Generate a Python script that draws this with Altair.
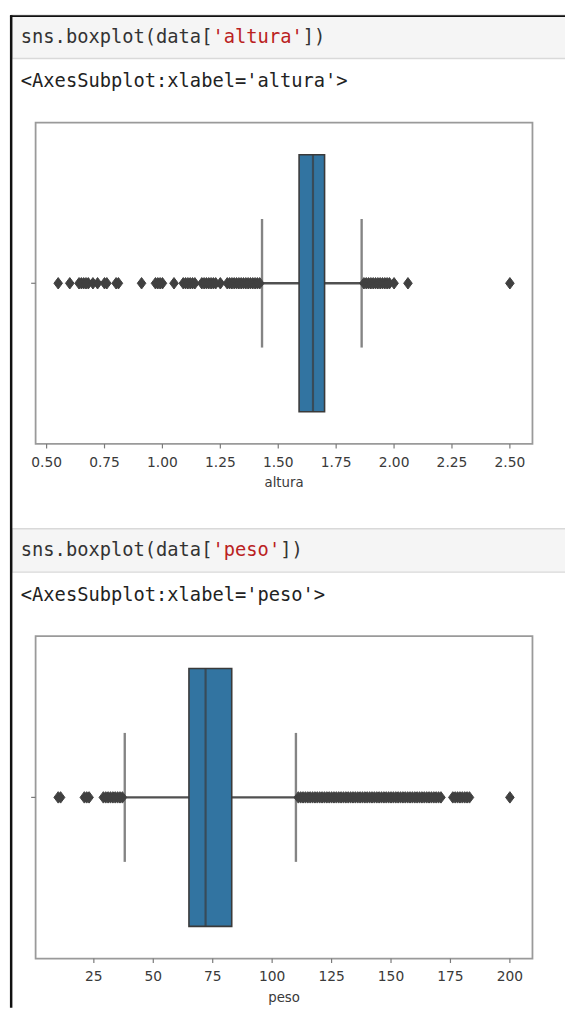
import altair as alt
import pandas as pd

W, H = 565, 1007

# ---------------- data ----------------
altura_box = {"q1": 1.59, "median": 1.65, "q3": 1.70, "low": 1.43, "high": 1.86}
altura_outliers = [
    0.55, 0.60, 0.64, 0.65, 0.66, 0.67, 0.68, 0.70, 0.72, 0.75, 0.76, 0.80, 0.81,
    0.91, 0.97, 0.98, 0.99, 1.00, 1.05, 1.09, 1.10, 1.11, 1.12, 1.13, 1.14,
    1.17, 1.18, 1.19, 1.20, 1.21, 1.22, 1.23, 1.25, 1.28, 1.29, 1.30, 1.31,
    1.32, 1.33, 1.34, 1.35, 1.36, 1.37, 1.38, 1.39, 1.40, 1.41, 1.42,
    1.87, 1.88, 1.89, 1.90, 1.91, 1.92, 1.93, 1.94, 1.95, 1.96, 1.97, 1.98,
    2.00, 2.06, 2.50,
]
altura_ticks = [0.50, 0.75, 1.00, 1.25, 1.50, 1.75, 2.00, 2.25, 2.50]
altura_tick_labels = ["0.50", "0.75", "1.00", "1.25", "1.50", "1.75", "2.00", "2.25", "2.50"]
altura_domain = [0.4525, 2.5975]

peso_box = {"q1": 65, "median": 72, "q3": 83, "low": 38, "high": 110}
peso_outliers = [
    10, 11, 21, 22, 23, 29, 30, 31, 32, 33, 34, 35, 36, 37,
    111, 112, 113, 114, 115, 116, 117, 118, 119, 120, 121, 122, 123, 124, 125,
    126, 127, 128, 129, 130, 131, 132, 133, 134, 135, 136, 137, 138, 139, 140,
    141, 142, 143, 144, 145, 146, 147, 148, 149, 150, 151, 152, 153, 154, 155,
    156, 157, 158, 159, 160, 161, 162, 163, 164, 165, 166, 167, 168, 169, 170,
    171, 176, 177, 178, 179, 180, 181, 182, 183, 200,
]
peso_ticks = [25, 50, 75, 100, 125, 150, 175, 200]
peso_tick_labels = ["25", "50", "75", "100", "125", "150", "175", "200"]
peso_domain = [0.5, 209.5]

# ---------------- styles ----------------
BLUE = "#3274a1"
LINE = "#505050"
FLIER = "#404040"
EDGE = "#3a3a3a"
SPINE = "#9a9a9a"
TXT = "#3a3a3a"
MONO = "DejaVu Sans Mono"
SANS = "DejaVu Sans"
DIAMOND = "M0,-1L0.75,0L0,1L-0.75,0Z"
CW = 0.6021 * 19  # monospace char width

one = pd.DataFrame({"k": [0]})


def boxplot(name, box, outliers, ticks, tick_labels, xdom, frame_top, frame_bot):
    xs = alt.Scale(domain=xdom, range=[28, 532], nice=False, zero=False)
    ys = alt.Scale(domain=[name], range=[frame_top, frame_bot], paddingInner=0, paddingOuter=0)
    band = frame_bot - frame_top
    stats = pd.DataFrame([{"var": name, **box}])
    out = pd.DataFrame({"var": name, "value": outliers})
    tk = pd.DataFrame({"tick": ticks, "label": tick_labels})
    Yn = alt.Y("var:N", scale=ys, axis=None)

    w_lo = alt.Chart(stats).mark_rule(color=LINE, strokeWidth=2.4).encode(
        x=alt.X("low:Q", scale=xs, axis=None), x2="q1:Q", y=Yn)
    w_hi = alt.Chart(stats).mark_rule(color=LINE, strokeWidth=2.4).encode(
        x=alt.X("q3:Q", scale=xs, axis=None), x2="high:Q", y=Yn)
    caps = alt.Chart(stats).transform_fold(["low", "high"], as_=["which", "v"]).mark_tick(
        color=LINE, thickness=2.4, size=band * 0.4, orient="vertical").encode(
        x=alt.X("v:Q", scale=xs, axis=None), y=Yn)
    boxes = alt.Chart(stats).mark_bar(
        height={"band": 0.8}, fill=BLUE, stroke=EDGE, strokeWidth=1.6).encode(
        x=alt.X("q1:Q", scale=xs, axis=None), x2="q3:Q", y=Yn)
    med = alt.Chart(stats).mark_tick(color=EDGE, thickness=2.2, size=band * 0.8,
                                     orient="vertical").encode(
        x=alt.X("median:Q", scale=xs, axis=None), y=Yn)
    fl = alt.Chart(out).mark_point(shape=DIAMOND, filled=True, size=135, color=FLIER,
                                   opacity=1, stroke=FLIER, strokeWidth=1).encode(
        x=alt.X("value:Q", scale=xs, axis=None), y=Yn)
    frame = alt.Chart(one).mark_rect(fillOpacity=0, stroke=SPINE, strokeWidth=1.8).encode(
        x=alt.value(28), x2=alt.value(532), y=alt.value(frame_top), y2=alt.value(frame_bot))
    # x axis ticks and labels
    xt = alt.Chart(tk).mark_rule(color="#7a7a7a", strokeWidth=1.2).encode(
        x=alt.X("tick:Q", scale=xs, axis=None),
        y=alt.value(frame_bot), y2=alt.value(frame_bot + 4.5))
    xl = alt.Chart(tk).mark_text(font=SANS, fontSize=14, color=TXT, baseline="middle",
                                 align="center").encode(
        x=alt.X("tick:Q", scale=xs, axis=None), y=alt.value(frame_bot + 19),
        text="label:N")
    xtitle = alt.Chart(one).mark_text(font=SANS, fontSize=13.5, color=TXT, baseline="middle",
                                      align="center").encode(
        x=alt.value(280), y=alt.value(frame_bot + 40), text=alt.value(name))
    # y axis tick (single category, no label)
    yt = alt.Chart(stats).mark_rule(color="#7a7a7a", strokeWidth=1.2).encode(
        x=alt.value(23.5), x2=alt.value(28), y=Yn)
    return alt.layer(w_lo, w_hi, caps, boxes, med, fl, frame, xt, xl, xtitle, yt)


def cell(name, top):
    bg = alt.Chart(one).mark_rect(fill="#f5f5f5", stroke="#d9d9d9", strokeWidth=1.5).encode(
        x=alt.value(4), x2=alt.value(W + 4), y=alt.value(top), y2=alt.value(top + 44))
    cy = top + 22
    pre = "sns.boxplot(data["
    s = "'" + name + "'"
    t1 = alt.Chart(one).mark_text(align="left", baseline="middle", font=MONO, fontSize=19,
                                  color="#333333").encode(
        x=alt.value(13), y=alt.value(cy), text=alt.value(pre))
    t2 = alt.Chart(one).mark_text(align="left", baseline="middle", font=MONO, fontSize=19,
                                  color="#ba2121").encode(
        x=alt.value(13 + CW * len(pre)), y=alt.value(cy), text=alt.value(s))
    t3 = alt.Chart(one).mark_text(align="left", baseline="middle", font=MONO, fontSize=19,
                                  color="#333333").encode(
        x=alt.value(13 + CW * (len(pre) + len(s))), y=alt.value(cy), text=alt.value("])"))
    outp = alt.Chart(one).mark_text(align="left", baseline="middle", font=MONO, fontSize=19,
                                    color="#222222").encode(
        x=alt.value(13), y=alt.value(cy + 45),
        text=alt.value("<AxesSubplot:xlabel='" + name + "'>"))
    return alt.layer(bg, t1, t2, t3, outp)


top_line = alt.Chart(one).mark_rule(color="#111111", strokeWidth=2).encode(
    x=alt.value(2), x2=alt.value(W), y=alt.value(1))
left_line = alt.Chart(one).mark_rule(color="#111111", strokeWidth=2.5).encode(
    x=alt.value(3.2), y=alt.value(0), y2=alt.value(H))

p1 = boxplot("altura", altura_box, altura_outliers, altura_ticks, altura_tick_labels,
             altura_domain, 109, 435)
p2 = boxplot("peso", peso_box, peso_outliers, peso_ticks, peso_tick_labels,
             peso_domain, 630, 957)

chart = alt.layer(
    cell("altura", 0), cell("peso", 521), p1, p2, top_line, left_line
).resolve_scale(x="independent", y="independent").properties(
    width=W, height=H, autosize=alt.AutoSizeParams(type="none"), padding=0,
    background="white"
).configure_view(stroke=None)

chart.save("out.html", embed_options={"renderer": "svg", "actions": False})
